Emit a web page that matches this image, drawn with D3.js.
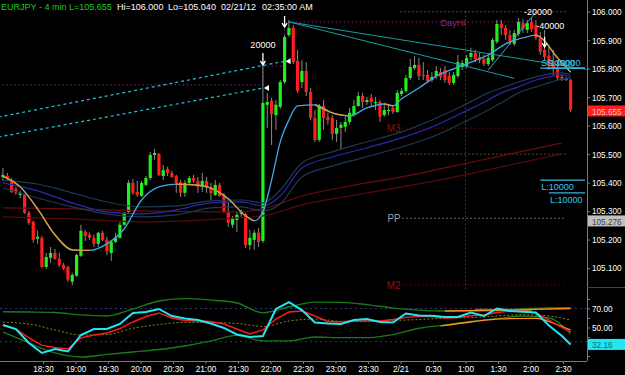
<!DOCTYPE html>
<html>
<head>
<meta charset="utf-8">
<script src="https://cdn.jsdelivr.net/npm/d3@7"></script>
<style>
html, body { margin: 0; padding: 0; background: #000; }
svg { display: block; font-family: "Liberation Sans", Arial, sans-serif; }
</style>
</head>
<body>
<script>
// ---- bars: EURJPY 4 min ----
const startTime = new Date(2012, 1, 20, 17, 53);
const barMinutes = 4;

const barOpen = [105.419,105.423,105.409,105.378,105.357,105.357,105.294,105.262,105.203,105.206,
  105.104,105.136,105.153,105.132,105.111,105.104,105.052,105.073,105.143,105.227,
  105.217,105.206,105.185,105.224,105.199,105.153,105.192,105.206,105.252,105.297,
  105.399,105.367,105.353,105.392,105.416,105.497,105.501,105.423,105.448,105.434,
  105.423,105.402,105.364,105.399,105.416,105.406,105.385,105.406,105.385,105.357,
  105.392,105.357,105.297,105.252,105.269,105.290,105.290,105.181,105.199,105.224,
  105.195,105.673,105.687,105.637,105.666,105.753,105.918,105.943,105.827,105.753,
  105.792,105.718,105.627,105.550,105.669,105.630,105.627,105.571,105.592,105.596,
  105.613,105.637,105.669,105.704,105.683,105.697,105.680,105.683,105.637,105.652,
  105.662,105.648,105.711,105.722,105.767,105.802,105.813,105.778,105.778,105.760,
  105.774,105.788,105.795,105.774,105.750,105.774,105.806,105.809,105.841,105.855,
  105.841,105.834,105.816,105.830,105.894,105.957,105.943,105.918,105.887,105.922,
  105.960,105.936,105.964,105.953,105.908,105.866,105.845,105.823,105.806,105.771,
  105.767,105.760];
const barHigh = [105.451,105.434,105.416,105.385,105.371,105.360,105.301,105.266,105.231,105.213,
  105.153,105.174,105.167,105.153,105.118,105.108,105.083,105.150,105.252,105.234,
  105.224,105.217,105.227,105.231,105.210,105.199,105.224,105.262,105.297,105.409,
  105.413,105.406,105.406,105.423,105.508,105.518,105.504,105.462,105.455,105.441,
  105.427,105.409,105.409,105.423,105.427,105.420,105.434,105.420,105.399,105.409,
  105.399,105.364,105.332,105.283,105.297,105.304,105.294,105.234,105.234,105.241,
  105.820,105.715,105.697,105.690,105.760,105.918,105.971,105.953,105.866,105.830,
  105.823,105.732,105.655,105.676,105.690,105.645,105.637,105.620,105.613,105.631,
  105.662,105.690,105.718,105.715,105.701,105.711,105.701,105.690,105.680,105.676,
  105.673,105.725,105.732,105.778,105.834,105.845,105.838,105.823,105.795,105.788,
  105.809,105.802,105.809,105.788,105.788,105.848,105.830,105.848,105.873,105.866,
  105.855,105.848,105.848,105.908,105.971,105.971,105.953,105.936,105.936,105.978,
  105.974,105.971,105.978,105.971,105.929,105.936,105.883,105.866,105.830,105.778,
  105.771,105.764];
const barLow = [105.406,105.406,105.364,105.357,105.346,105.290,105.252,105.189,105.185,105.101,
  105.097,105.118,105.129,105.104,105.094,105.052,105.040,105.069,105.139,105.195,
  105.199,105.174,105.174,105.195,105.146,105.125,105.188,105.203,105.248,105.294,
  105.357,105.350,105.350,105.388,105.409,105.480,105.423,105.409,105.423,105.416,
  105.364,105.350,105.350,105.395,105.399,105.364,105.367,105.364,105.339,105.353,
  105.350,105.294,105.245,105.241,105.227,105.280,105.171,105.164,105.164,105.174,
  105.188,105.592,105.532,105.585,105.659,105.746,105.911,105.816,105.715,105.732,
  105.704,105.620,105.543,105.543,105.585,105.603,105.550,105.543,105.515,105.578,
  105.603,105.631,105.666,105.662,105.673,105.669,105.655,105.613,105.631,105.637,
  105.641,105.645,105.704,105.715,105.760,105.795,105.760,105.760,105.750,105.753,
  105.764,105.760,105.750,105.743,105.743,105.767,105.795,105.802,105.830,105.823,
  105.820,105.809,105.809,105.823,105.887,105.918,105.901,105.883,105.880,105.915,
  105.925,105.925,105.929,105.901,105.848,105.830,105.795,105.778,105.760,105.757,
  105.757,105.648];
const barClose = [105.427,105.413,105.367,105.364,105.364,105.294,105.259,105.199,105.210,105.104,
  105.139,105.153,105.132,105.111,105.097,105.059,105.076,105.146,105.231,105.213,
  105.206,105.185,105.224,105.199,105.160,105.192,105.206,105.252,105.294,105.399,
  105.364,105.357,105.399,105.416,105.497,105.504,105.427,105.444,105.434,105.420,
  105.399,105.364,105.399,105.416,105.406,105.385,105.406,105.381,105.364,105.392,
  105.353,105.297,105.259,105.276,105.287,105.297,105.181,105.206,105.224,105.192,
  105.680,105.683,105.641,105.673,105.753,105.911,105.943,105.823,105.722,105.792,
  105.718,105.627,105.550,105.669,105.627,105.620,105.571,105.592,105.603,105.613,
  105.645,105.669,105.704,105.683,105.690,105.683,105.683,105.631,105.655,105.655,
  105.648,105.715,105.722,105.767,105.806,105.813,105.774,105.774,105.757,105.771,
  105.792,105.771,105.760,105.750,105.778,105.823,105.820,105.838,105.855,105.834,
  105.830,105.816,105.838,105.901,105.957,105.943,105.918,105.894,105.925,105.964,
  105.939,105.960,105.939,105.908,105.859,105.841,105.813,105.802,105.767,105.760,
  105.760,105.655];

// ---- price overlays (bar index, value) ----
const fastIdx = [0,4,8,12,16,20,24,28,32,36,40,44,48,52,56,58,60,62,64,66,68,72,76,80,84,88,90,92,96,100,104,108,112,116,120,123,124,128,131];
const fastMa = [105.423,105.385,105.308,105.217,105.164,105.162,105.185,105.238,105.339,105.385,105.395,105.392,105.381,105.343,105.283,105.266,105.297,105.409,105.543,105.620,105.669,105.673,105.645,105.634,105.662,105.676,105.669,105.694,105.732,105.774,105.799,105.823,105.848,105.887,105.908,105.918,105.911,105.838,105.788];

const bandIdx = [0,8,16,24,32,40,48,55,60,64,69,76,83,92,99,106,112,115,119,123,126,129,131];
const bandUpper = [105.409,105.395,105.364,105.332,105.315,105.318,105.336,105.339,105.329,105.374,105.469,105.508,105.539,105.578,105.620,105.669,105.715,105.732,105.753,105.771,105.781,105.785,105.778];
const bandMid = [105.399,105.371,105.329,105.297,105.290,105.304,105.329,105.332,105.318,105.353,105.451,105.490,105.518,105.557,105.595,105.645,105.690,105.715,105.736,105.760,105.771,105.778,105.771];
const bandLower = [105.381,105.346,105.315,105.290,105.280,105.287,105.311,105.315,105.301,105.325,105.420,105.458,105.487,105.525,105.560,105.609,105.655,105.680,105.715,105.736,105.750,105.764,105.767];

const slowIdx = [0,16,32,54,60,69,80,92,103,115,129];
const slowUpper = [105.311,105.308,105.301,105.297,105.308,105.353,105.388,105.420,105.455,105.494,105.539];
const slowLower = [105.280,105.273,105.262,105.276,105.283,105.322,105.353,105.385,105.416,105.455,105.501];

// trend lines: [startIdx, startPrice, endIdx, endPrice]
const dashedTrends = [[-1, 105.630, 65, 105.826], [-1, 105.560, 60, 105.732]];
const tealTrends = [[66, 105.964, 135, 105.797], [66, 105.964, 118, 105.766]];
const riseTrend = [112, 105.795, 123, 105.999];

// day high steps
const dayHiIdx = [-1, 60, 65, 120];
const dayHiPrice = [105.743, 105.809, 105.964, 105.964];

// pivot levels (drawn from midnight)
const levelNames = ["M3", "PP", "M2"];
const levelPrices = [105.591, 105.275, 105.041];
const guidePrices = [106.000, 105.500];

// orders / trades
const orderNames = ["S:10000", "S:10000", "L:10000", "L:10000"];
const orderPrices = [105.802, 105.802, 105.409, 105.364];
const orderStartIdx = [124, 125.3, 124, 126];
const noteIdx = [60, 123.5, 126.3];
const noteText = ["20000", "-20000", "-40000"];
const notePrice = [105.885, 106.002, 105.952];
const arrowIdx = [60, 65, 125];
const arrowTop = [105.855, 105.985, 105.911];
const arrowBottom = [105.813, 105.946, 105.876];

// header
const symbolText = "EURJPY - 4 min";
const lastPrice = 105.655;
const dayHigh = 106.000;
const dayLow = 105.040;
const stampText = ["02/21/12", "02:35:00 AM"];
const pivotBoxPrice = 105.276;

// ---- oscillator panel ----
const oscIdx = [0,3,6,9,12,15,18,21,24,27,30,33,36,39,42,45,48,51,54,57,60,63,66,69,72,75,78,81,84,87,90,93,96,99,102,105,108,111,114,117,120,123,126,129,131];
const oscFast = [52.6,48.4,33.7,23.2,27.4,24.7,42.1,48.4,48.4,53.7,65.3,66.3,69.5,62.1,59.5,57.9,54.2,49.5,42.6,40.0,41.0,69.5,76.8,68.4,55.3,54.2,53.7,57.9,58.9,55.8,55.3,64.7,62.6,62.4,61.1,61.1,65.8,62.1,70.0,67.4,66.6,65.8,52.1,41.1,32.16];
const oscSignal = [52.6,48.4,39.0,31.1,28.9,27.4,39.0,42.1,44.2,48.9,55.8,61.6,65.3,60.0,57.4,56.8,56.3,53.7,48.4,43.2,47.4,58.9,66.3,67.4,62.1,56.1,56.1,56.8,56.8,56.8,58.4,60.7,61.6,61.8,60.0,60.5,62.4,63.2,65.8,67.2,67.1,65.3,57.9,50.0,45.3];
const oscBandIdx = [0,6,12,18,24,30,36,42,48,54,60,66,72,78,84,90,96,102,108,114,120,126,131];
const oscUpper = [66.6,66.3,65.8,63.2,62.1,69.5,77.9,80.5,78.9,75.8,65.5,71.6,76.8,76.5,74.2,70.5,68.4,67.4,67.7,68.4,69.5,70.7,70.8];
const oscLower = [45.3,33.7,23.2,18.9,21.6,24.2,26.8,30.5,35.8,41.6,35.8,35.8,40.0,39.3,39.3,42.6,49.2,52.6,56.3,59.3,62.1,60.0,43.2];
const oscMid = [55.5,53.7,47.4,42.1,42.6,49.2,53.2,55.3,55.3,54.2,51.1,56.8,58.9,56.5,56.1,57.4,58.4,59.8,60.4,62.1,63.4,62.1,57.9];
const oscOrangeUpIdx = [102,110,118,126,131];
const oscOrangeUp = [67.4,67.9,68.4,69.5,70.0];
const oscOrangeLowIdx = [101,108,115,123,127,131];
const oscOrangeLow = [51.6,55.8,59.0,59.7,54.7,47.4];
const oscBrownIdx = [109,122];
const oscBrown = [68.4,68.4];
const oscLevels = [70, 35];
const oscTicks = [80, 70, 60, 50, 40, 20];
const oscLabelTicks = [70, 50];

const priceTicks = [106.0,105.9,105.8,105.7,105.6,105.5,105.4,105.3,105.2,105.1];

// ---- layout ----
const width = 625, height = 375;
const plotRight = 587;
const priceBottom = 289;
const axisY = 361;
const narrow = 0.82; // squeeze text like the narrow terminal font

const timeOf = i => new Date(startTime.getTime() + i * barMinutes * 60000);

const x = d3.scaleTime()
  .domain([new Date(2012, 1, 20, 18, 30), new Date(2012, 1, 21, 2, 30)])
  .range([43, 563]);
const y = d3.scaleLinear().domain([105.023, 106.041]).range([290, 0]);
const yo = d3.scaleLinear().domain([14.7, 89.5]).range([axisY, 290]);

const svg = d3.select("body").append("svg")
  .attr("width", width).attr("height", height)
  .style("background", "#000");

const defs = svg.append("defs");
defs.append("clipPath").attr("id", "pclip").append("rect")
  .attr("x", 0).attr("y", 0).attr("width", plotRight).attr("height", priceBottom);
defs.append("clipPath").attr("id", "oclip").append("rect")
  .attr("x", 0).attr("y", priceBottom + 1).attr("width", plotRight).attr("height", axisY - priceBottom - 1);

const pg = svg.append("g").attr("clip-path", "url(#pclip)");
const og = svg.append("g").attr("clip-path", "url(#oclip)");

const zip = (idx, vals) => idx.map((d, k) => [d, vals[k]]);
const oscLine = d3.line().x(d => x(timeOf(d[0]))).y(d => yo(d[1]));

// ---- level lines ----
const midnight = new Date(2012, 1, 21, 0, 0);
const levelEnd = timeOf(130);
const levelColor = { M3: "#8b1414", PP: "#c8c8c8", M2: "#8b1414" };

guidePrices.forEach(p => {
  pg.append("line")
    .attr("x1", x(midnight)).attr("x2", x(levelEnd))
    .attr("y1", y(p)).attr("y2", y(p))
    .attr("stroke", "#9a9a30").attr("stroke-dasharray", "1,3");
});
pg.append("line")
  .attr("x1", x(new Date(2012, 1, 21, 1, 0))).attr("x2", x(new Date(2012, 1, 21, 1, 0)))
  .attr("y1", y(106.0)).attr("y2", priceBottom)
  .attr("stroke", "#7a7a28").attr("stroke-dasharray", "1,3");

levelNames.forEach((n, k) => {
  pg.append("line")
    .attr("x1", x(midnight) + 2).attr("x2", x(levelEnd))
    .attr("y1", y(levelPrices[k])).attr("y2", y(levelPrices[k]))
    .attr("stroke", levelColor[n]).attr("stroke-dasharray", "1,3");
  pg.append("text")
    .attr("x", x(midnight)).attr("y", y(levelPrices[k]) + 4)
    .attr("text-anchor", "end")
    .attr("font-size", "12px")
    .attr("fill", n === "PP" ? "#a0a0a0" : levelColor[n])
    .text(n);
});

// day high (stepped)
pg.append("path")
  .attr("d", d3.line().x(d => x(timeOf(d[0]))).y(d => y(d[1])).curve(d3.curveStepAfter)(zip(dayHiIdx, dayHiPrice)))
  .attr("fill", "none").attr("stroke", "#8b1a8b").attr("stroke-dasharray", "1.5,2.5");
pg.append("text")
  .attr("x", x(timeOf(101))).attr("y", y(105.964) + 4)
  .attr("font-size", "11px").attr("fill", "#8a2a9a")
  .text("DayHi");

// ---- candles ----
const bars = barOpen.map((o, i) => ({ i, o, h: barHigh[i], l: barLow[i], c: barClose[i] }));
const candle = pg.append("g").selectAll("g").data(bars).join("g");
candle.append("line")
  .attr("x1", d => x(timeOf(d.i))).attr("x2", d => x(timeOf(d.i)))
  .attr("y1", d => y(d.h)).attr("y2", d => y(d.l))
  .attr("stroke", "#8a8a8a");
candle.append("rect")
  .attr("x", d => x(timeOf(d.i)) - 1.6)
  .attr("width", 3.2)
  .attr("y", d => y(Math.max(d.o, d.c)))
  .attr("height", d => Math.max(1.2, Math.abs(y(d.o) - y(d.c))))
  .attr("fill", d => d.c >= d.o ? "#1ef01e" : "#ff1e1e");

// ---- slow lines ----
const smooth = d3.line().x(d => x(timeOf(d[0]))).y(d => y(d[1])).curve(d3.curveMonotoneX);
[[slowUpper, "#6a0c0c"], [slowLower, "#5a0a0a"]].forEach(([vals, col]) => {
  pg.append("path").attr("d", smooth(zip(slowIdx, vals)))
    .attr("fill", "none").attr("stroke", col).attr("stroke-width", 1.2);
});
[[bandUpper, "#1d3a52"], [bandMid, "#2a2ab0"], [bandLower, "#1d3a52"]].forEach(([vals, col]) => {
  pg.append("path").attr("d", smooth(zip(bandIdx, vals)))
    .attr("fill", "none").attr("stroke", col).attr("stroke-width", 1.2);
});

// dashed trend lines with end markers
dashedTrends.forEach(t => {
  const x1 = x(timeOf(t[0])), y1 = y(t[1]), x2 = x(timeOf(t[2])), y2 = y(t[3]);
  pg.append("line").attr("x1", x1).attr("y1", y1).attr("x2", x2).attr("y2", y2)
    .attr("stroke", "#1ec8d8").attr("stroke-width", 1.2).attr("stroke-dasharray", "3,3");
  pg.append("path")
    .attr("d", `M${x2 + 1},${y2} L${x2 + 6},${y2 - 3} L${x2 + 6},${y2 + 3} Z`)
    .attr("fill", "#fff");
});
tealTrends.forEach(t => {
  pg.append("line")
    .attr("x1", x(timeOf(t[0]))).attr("y1", y(t[1]))
    .attr("x2", x(timeOf(t[2]))).attr("y2", y(t[3]))
    .attr("stroke", "#1a9a9a");
});
pg.append("line")
  .attr("x1", x(timeOf(riseTrend[0]))).attr("y1", y(riseTrend[1]))
  .attr("x2", x(timeOf(riseTrend[2]))).attr("y2", y(riseTrend[3]))
  .attr("stroke", "#3aaac0");

// fast MA: light blue when rising, orange when falling
const fastPts = zip(fastIdx, fastMa);
pg.append("path").attr("d", smooth(fastPts))
  .attr("fill", "none").attr("stroke", "#3fa9e6").attr("stroke-width", 1.3);
let run = [];
fastPts.forEach((p, k) => {
  const falling = k < fastPts.length - 1 && fastPts[k + 1][1] < p[1];
  if (falling) {
    if (!run.length) run.push(p);
    run.push(fastPts[k + 1]);
  } else if (run.length) {
    pg.append("path").attr("d", smooth(run))
      .attr("fill", "none").attr("stroke", "#e0962a").attr("stroke-width", 1.3);
    run = [];
  }
});

// orders
orderNames.forEach((n, k) => {
  const yy = y(orderPrices[k]);
  const x1 = x(timeOf(orderStartIdx[k]));
  pg.append("line").attr("x1", x1).attr("x2", plotRight - 2)
    .attr("y1", yy).attr("y2", yy)
    .attr("stroke", "#30b8e0").attr("stroke-width", 1.2);
  const below = n.startsWith("L");
  pg.append("text")
    .attr("x", x1 + 1).attr("y", below ? yy + 10 : yy - 2)
    .attr("font-size", "11px").attr("fill", "#38c8f0")
    .text(n);
});

// trade notes and arrows
noteText.forEach((t, k) => {
  pg.append("text")
    .attr("x", x(timeOf(noteIdx[k]))).attr("y", y(notePrice[k]) + 4)
    .attr("text-anchor", "middle")
    .attr("font-size", "11px").attr("fill", "#fff")
    .text(t);
});
arrowIdx.forEach((i, k) => {
  const ax = x(timeOf(i)), t = y(arrowTop[k]), b = y(arrowBottom[k]);
  pg.append("path")
    .attr("d", `M${ax},${t} L${ax},${b} M${ax - 2.5},${b - 4} L${ax},${b} L${ax + 2.5},${b - 4}`)
    .attr("fill", "none").attr("stroke", "#fff").attr("stroke-width", 1.3);
});

// ---- oscillator ----
oscLevels.forEach(v => {
  og.append("line").attr("x1", 0).attr("x2", plotRight)
    .attr("y1", yo(v)).attr("y2", yo(v))
    .attr("stroke", "#2c3a72").attr("stroke-dasharray", "2,3");
});
const oscSmooth = d3.line().x(d => x(timeOf(d[0]))).y(d => yo(d[1])).curve(d3.curveMonotoneX);
og.append("path").attr("d", oscSmooth(zip(oscBandIdx, oscMid)))
  .attr("fill", "none").attr("stroke", "#8a8a18").attr("stroke-dasharray", "2,2");
og.append("path").attr("d", oscSmooth(zip(oscBandIdx, oscUpper)))
  .attr("fill", "none").attr("stroke", "#1a7a1a").attr("stroke-width", 1.3);
og.append("path").attr("d", oscSmooth(zip(oscBandIdx, oscLower)))
  .attr("fill", "none").attr("stroke", "#1a7a1a").attr("stroke-width", 1.3);
og.append("path").attr("d", oscSmooth(zip(oscBrownIdx, oscBrown)))
  .attr("fill", "none").attr("stroke", "#9a5218").attr("stroke-width", 2.5);
og.append("path").attr("d", oscSmooth(zip(oscOrangeUpIdx, oscOrangeUp)))
  .attr("fill", "none").attr("stroke", "#ff8c1a").attr("stroke-width", 1.3);
og.append("path").attr("d", oscSmooth(zip(oscOrangeLowIdx, oscOrangeLow)))
  .attr("fill", "none").attr("stroke", "#ff8c1a").attr("stroke-width", 1.3);
og.append("path").attr("d", oscLine(zip(oscIdx, oscSignal)))
  .attr("fill", "none").attr("stroke", "#ff1a1a").attr("stroke-width", 1.4);
og.append("path").attr("d", oscLine(zip(oscIdx, oscFast)))
  .attr("fill", "none").attr("stroke", "#22e6f2").attr("stroke-width", 2);

// ---- axes ----
const axisColor = "#7a7a7a";
svg.append("line").attr("x1", plotRight + 0.5).attr("x2", plotRight + 0.5)
  .attr("y1", 0).attr("y2", axisY).attr("stroke", axisColor);
svg.append("line").attr("x1", 0).attr("x2", plotRight)
  .attr("y1", axisY + 0.5).attr("y2", axisY + 0.5).attr("stroke", axisColor);
svg.append("line").attr("x1", plotRight).attr("x2", width)
  .attr("y1", priceBottom - 1.5).attr("y2", priceBottom - 1.5).attr("stroke", "#444");

function styleAxis(g) {
  g.select(".domain").remove();
  g.selectAll("line").attr("stroke", axisColor);
  g.selectAll("text").attr("fill", "#fff").attr("font-size", "10px")
    .attr("font-family", "\"Liberation Sans\", Arial, sans-serif");
}

svg.append("g").attr("transform", `translate(${plotRight},0)`)
  .call(d3.axisRight(y).tickValues(priceTicks).tickFormat(d3.format(".3f")).tickSize(3).tickPadding(2))
  .call(styleAxis);

svg.append("g").attr("transform", `translate(${plotRight},0)`)
  .call(d3.axisRight(yo).tickValues(oscTicks)
    .tickFormat(d => oscLabelTicks.includes(d) ? d3.format(".2f")(d) : "")
    .tickSize(3).tickPadding(2))
  .call(styleAxis);

const timeFmt = d => (d.getHours() === 0 && d.getMinutes() === 0)
  ? (d.getMonth() + 1) + "/" + d.getDate()
  : d3.timeFormat("%-H:%M")(d);
svg.append("g").attr("transform", `translate(0,${axisY})`)
  .call(d3.axisBottom(x).ticks(d3.timeMinute.every(30)).tickFormat(timeFmt).tickSize(3).tickPadding(1.5))
  .call(styleAxis);

// value boxes on the right
function valueBox(yy, txt, bg, fg) {
  svg.append("rect").attr("x", plotRight + 1).attr("y", yy - 5.5)
    .attr("width", width - plotRight - 1).attr("height", 11).attr("fill", bg);
  svg.append("text").attr("x", plotRight + 5).attr("y", yy + 4)
    .attr("font-size", "10px").attr("fill", fg).text(txt);
}
valueBox(y(lastPrice) + 1, d3.format(".3f")(lastPrice), "#ff1e1e", "#ffc0c0");
valueBox(y(pivotBoxPrice) + 3, d3.format(".3f")(pivotBoxPrice), "#c0c0c0", "#404040");
valueBox(yo(oscFast[oscFast.length - 1]), d3.format(".2f")(oscFast[oscFast.length - 1]), "#22e6f2", "#106a78");

// header
const head = svg.append("g").attr("font-size", "11px");
head.append("text").attr("x", 1).attr("y", 9.5).attr("fill", "#20c820").text(symbolText);
head.append("text").attr("x", 69).attr("y", 9.5).attr("fill", "#20c820").text("L=" + d3.format(".3f")(lastPrice));
head.append("text").attr("x", 117).attr("y", 9.5).attr("fill", "#fff").text("Hi=" + d3.format(".3f")(dayHigh));
head.append("text").attr("x", 168).attr("y", 9.5).attr("fill", "#fff").text("Lo=" + d3.format(".3f")(dayLow));
head.append("text").attr("x", 221).attr("y", 9.5).attr("fill", "#fff").text(stampText[0]);
head.append("text").attr("x", 262).attr("y", 9.5).attr("fill", "#fff").text(stampText[1]);

// squeeze every label like the narrow terminal font: slightly smaller, then fit width
svg.selectAll("text").each(function () {
  const w = this.getComputedTextLength();
  if (w > 0) {
    const fs = parseFloat(this.getAttribute("font-size") || getComputedStyle(this).fontSize);
    this.setAttribute("font-size", (fs * 0.9).toFixed(2) + "px");
    this.setAttribute("textLength", (w * narrow).toFixed(1));
    this.setAttribute("lengthAdjust", "spacingAndGlyphs");
  }
});
</script>
</body>
</html>
